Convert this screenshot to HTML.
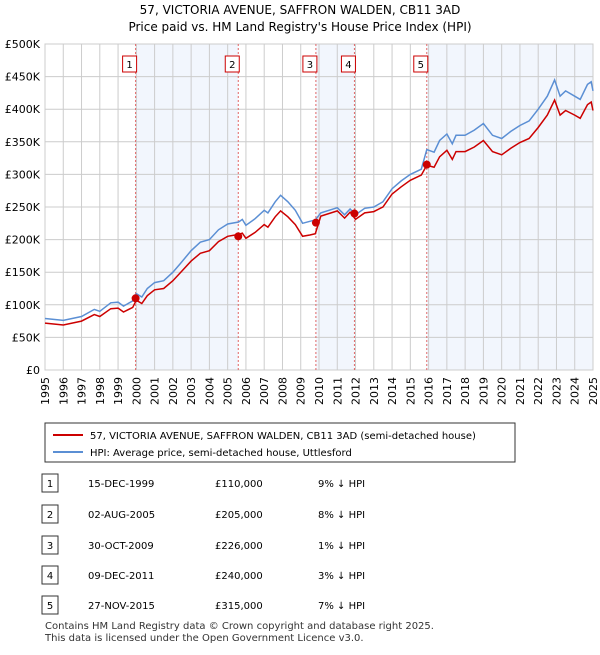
<!DOCTYPE html>
<html><head><meta charset="utf-8"><style>
body{margin:0;background:#fff;font-family:"Liberation Sans","DejaVu Sans",sans-serif;}
svg text{font-family:"DejaVu Sans","Liberation Sans",sans-serif;}
</style></head><body>
<svg id="c" width="600" height="650" xmlns="http://www.w3.org/2000/svg">
<text x="300" y="14" text-anchor="middle" font-size="12">57, VICTORIA AVENUE, SAFFRON WALDEN, CB11 3AD</text>
<text x="300" y="31" text-anchor="middle" font-size="12">Price paid vs. HM Land Registry's House Price Index (HPI)</text>
<g id="plot"></g>
<rect x="45" y="423" width="470" height="39" fill="#fff" stroke="#333"/>
<line x1="53" y1="435" x2="83" y2="435" stroke="#cc0000" stroke-width="2"/>
<text x="90" y="439" font-size="10">57, VICTORIA AVENUE, SAFFRON WALDEN, CB11 3AD (semi-detached house)</text>
<line x1="53" y1="452" x2="83" y2="452" stroke="#5b8fd4" stroke-width="2"/>
<text x="90" y="456" font-size="10">HPI: Average price, semi-detached house, Uttlesford</text>
<g id="table" font-size="10"></g>
<text x="45" y="629" font-size="10" fill="#333">Contains HM Land Registry data © Crown copyright and database right 2025.</text>
<text x="45" y="641" font-size="10" fill="#333">This data is licensed under the Open Government Licence v3.0.</text>
</svg>
<script>
const hpiYears=[1995,1996,1997,1997.7,1998,1998.6,1999,1999.3,1999.8,2000,2000.3,2000.6,2001,2001.5,2002,2002.4,2003,2003.5,2004,2004.5,2005,2005.6,2005.8,2006,2006.5,2007,2007.2,2007.6,2007.9,2008.3,2008.7,2009.1,2009.5,2009.8,2010.1,2011,2011.4,2011.7,2012,2012.5,2013,2013.5,2014,2014.5,2015,2015.6,2015.9,2016.3,2016.6,2017,2017.3,2017.5,2018,2018.5,2019,2019.5,2020,2020.5,2021,2021.5,2022,2022.5,2022.9,2023.2,2023.5,2024,2024.3,2024.7,2024.9,2025];
const hpiValues=[79,76,82,93,90,103,104,98,106,117,112,125,134,137,150,163,183,196,200,215,224,227,231,222,232,245,241,258,268,258,245,225,228,230,241,249,238,247,238,248,250,258,278,290,300,308,338,334,352,362,347,360,360,368,378,360,355,366,375,382,400,420,445,420,428,420,415,438,442,428];
const priceValues=[72,69,75,85,82,94,95,89,96,107,102,114,123,125,137,149,167,179,183,197,205,208,210,202,211,223,219,235,244,235,223,205,207,209,236,244,233,242,231,241,243,250,270,281,291,299,314,311,327,337,323,335,335,342,352,335,330,340,349,355,372,391,414,391,398,391,386,407,411,398];
const saleDates=[1999.96,2005.58,2009.83,2011.94,2015.9];
const salePrices=[110,205,226,240,315];
const saleLabels=["15-DEC-1999","02-AUG-2005","30-OCT-2009","09-DEC-2011","27-NOV-2015"];
const salePriceText=["£110,000","£205,000","£226,000","£240,000","£315,000"];
const saleHpiText=["9% ↓ HPI","8% ↓ HPI","1% ↓ HPI","3% ↓ HPI","7% ↓ HPI"];
const yTicks=[0,50,100,150,200,250,300,350,400,450,500];
const yTickLabels=["£0","£50K","£100K","£150K","£200K","£250K","£300K","£350K","£400K","£450K","£500K"];
const xTicks=[1995,1996,1997,1998,1999,2000,2001,2002,2003,2004,2005,2006,2007,2008,2009,2010,2011,2012,2013,2014,2015,2016,2017,2018,2019,2020,2021,2022,2023,2024,2025];

const L=45,R=593,T=44,B=370;
const xs=v=>L+(v-1995)/30*(R-L);
const ys=v=>B-v/500*(B-T);
const NS="http://www.w3.org/2000/svg";
const g=document.getElementById('plot');
function mk(tag,attrs,parent){const e=document.createElementNS(NS,tag);for(const k in attrs)e.setAttribute(k,attrs[k]);(parent||g).appendChild(e);return e;}

// shaded bands
const bands=[[0,1],[2,3],[4,null]];
bands.forEach(b=>{
  const x1=xs(saleDates[b[0]]),x2=b[1]===null?R:xs(saleDates[b[1]]);
  const r=mk('rect',{x:x1,y:T,width:x2-x1,height:B-T,fill:'#eef3fc',opacity:0.75});
  
  
});
// grid
xTicks.forEach(t=>{
  const l=mk('line',{x1:xs(t),x2:xs(t),y1:T,y2:B,stroke:'#cccccc','stroke-width':1});
  
  
  const tx=mk('text',{x:0,y:0,'font-size':11,'text-anchor':'end',transform:`translate(${xs(t)+4},${B+7}) rotate(-90)`});
  tx.textContent=t;
  
  
});
yTicks.forEach((t,i)=>{
  const l=mk('line',{x1:L,x2:R,y1:ys(t),y2:ys(t),stroke:'#cccccc','stroke-width':1});
  
  
  const tx=mk('text',{x:40,y:ys(t)+4,'font-size':11,'text-anchor':'end'});
  tx.textContent=yTickLabels[i];
  
  
});
const fr=mk('rect',{x:L,y:T,width:R-L,height:B-T,fill:'none',stroke:'#cccccc'});


// sale lines and labels
saleDates.forEach((d,i)=>{
  const l=mk('line',{x1:xs(d),x2:xs(d),y1:T,y2:B,stroke:'#e06666','stroke-width':1,'stroke-dasharray':'2,2'});
  
  
  const bx=mk('rect',{x:xs(d)-13,y:56,width:14,height:16,fill:'#fff',stroke:'#cc0000'});
  
  
  const t=mk('text',{x:xs(d)-6,y:68,'font-size':10,'text-anchor':'middle'});
  t.textContent=i+1;
  
  
});
// lines
const pts=a=>hpiYears.map((y,i)=>xs(y).toFixed(1)+','+ys(a[i]).toFixed(1)).join(' ');
const hl=mk('polyline',{points:pts(hpiValues),fill:'none',stroke:'#5b8fd4','stroke-width':1.5});


const pl=mk('polyline',{points:pts(priceValues),fill:'none',stroke:'#cc0000','stroke-width':1.5});


saleDates.forEach((d,i)=>{
  const c=mk('circle',{cx:xs(d),cy:ys(salePrices[i]),r:4,fill:'#cc0000'});
  
  
});
// table
const tb=document.getElementById('table');
const rowY=[483,514,545,575,605];
saleLabels.forEach((s,i)=>{
  const y=rowY[i];
  const bx=mk('rect',{x:42,y:y-9,width:16,height:18,fill:'#fff',stroke:'#333'},tb);
  
  
  const n=mk('text',{x:50,y:y+4,'text-anchor':'middle'},tb);n.textContent=i+1;
  
  
  const a=mk('text',{x:88,y:y+4},tb);a.textContent=s;
  
  
  const p=mk('text',{x:215,y:y+4},tb);p.textContent=salePriceText[i];
  
  
  const h=mk('text',{x:318,y:y+4},tb);h.textContent=saleHpiText[i];
  
  
});
</script>
</body></html>
